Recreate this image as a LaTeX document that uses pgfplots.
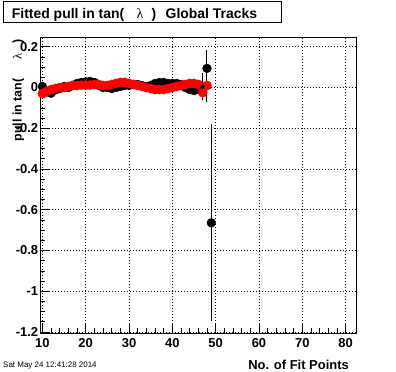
\documentclass[border=0pt]{standalone}
\usepackage{fontspec}
\setmainfont{Liberation Sans}
\newfontfamily\symf{Liberation Serif}
\usepackage{pgfplots}
\pgfplotsset{compat=1.18}
\begin{document}
\begin{tikzpicture}
\useasboundingbox (0,0) rectangle (396bp,372bp);
\fill[white] (0,0) rectangle (396bp,372bp);
\begin{axis}[
  at={(40bp,39bp)}, anchor=south west,
  scale only axis, width=316bp, height=296bp,
  xmin=9.45, xmax=82.4, ymin=-1.205, ymax=0.248,
  xtick={10,20,30,40,50,60,70,80}, minor x tick num=4,
  ytick={-1.2,-1,-0.8,-0.6,-0.4,-0.2,0,0.2},
  yticklabels={-1.2,-1,-0.8,-0.6,-0.4,-0.2,0,0.2},
  minor y tick num=3,
  tick align=inside, tick pos=left,
  major tick length=9bp, minor tick length=4.5bp,
  grid=major, grid style={black, line width=0.6bp, dash pattern=on 1bp off 2bp},
  axis line style={line width=0.8bp},
  every tick/.style={black, line width=0.7bp},
  ticklabel style={font=\fontsize{13}{15}\selectfont\bfseries},
  /pgf/number format/assume math mode=true,
  xticklabel style={yshift=-1.7bp},
  yticklabel style={xshift=1.6bp},
]
\addplot[only marks, mark=*, mark size=4.4bp, mark options={draw=black, fill=black}] coordinates {
(10,0.005) (11,-0.022) (12,-0.028) (13,-0.012) (14,-0.005) (15,0.005) (16,0.0) (17,0.01)
(18,0.02) (19,0.025) (20,0.028) (21,0.03) (22,0.025) (23,0.01) (24,0.0) (25,0.0)
(26,-0.005) (27,0.0) (28,0.005) (29,0.01) (30,0.01) (31,0.015) (32,0.015) (33,0.01)
(34,0.005) (35,0.01) (36,0.02) (37,0.025) (38,0.025) (39,0.02) (40,0.02) (41,0.02)
(42,0.015) (43,0.0) (44,-0.01) (45,-0.015) (46,-0.01)
};
\addplot[only marks, mark=*, mark size=4.6bp, mark options={draw=red, fill=red}] coordinates {
(10,-0.03) (11,-0.02) (12,-0.01) (13,-0.005) (14,0.0) (15,0.0) (16,0.005) (17,0.01)
(18,0.01) (19,0.012) (20,0.012) (21,0.012) (22,0.015) (23,0.015) (24,0.01) (25,0.01)
(26,0.015) (27,0.02) (28,0.025) (29,0.025) (30,0.02) (31,0.015) (32,0.01) (33,0.005)
(34,0.0) (35,-0.005) (36,-0.01) (37,-0.01) (38,-0.01) (39,-0.005) (40,0.0) (41,0.005)
(42,0.01) (43,0.015) (44,0.02) (45,0.02) (46,0.015) (47,-0.025) (48,0.01)
};
\addplot[only marks, mark=*, mark size=4.4bp, mark options={draw=black, fill=black},
  error bars/.cd, y dir=both, y explicit, error mark=none,
  error bar style={black, line width=1bp}] coordinates {
(48,0.094) += (0,0.09) -= (0,0.165)
(49,-0.664) +- (0,0.483)
};
\addplot[only marks, mark=none,
  error bars/.cd, y dir=both, y explicit, error mark=none,
  error bar style={black, line width=1bp}] coordinates {
(46.9,0.004) +- (0,0.066)
};
\end{axis}
\draw[line width=0.9bp] (3.5bp,349.5bp) rectangle (281.5bp,370.3bp);
\node[anchor=base west, inner sep=0, font=\fontsize{14}{16}\selectfont\bfseries] at (11.7bp,353.7bp) {Fitted pull in tan(};
\node[anchor=base west, inner sep=0, font=\fontsize{14}{16}\selectfont\symf] at (136.5bp,353.7bp) {λ};
\node[anchor=base west, inner sep=0, font=\fontsize{14}{16}\selectfont\bfseries] at (151.5bp,353.7bp) {)};
\node[anchor=base west, inner sep=0, font=\fontsize{14}{16}\selectfont\bfseries] at (165.5bp,353.7bp) {Global Tracks};
\node[rotate=90, anchor=base west, inner sep=0, font=\fontsize{12.5}{14}\selectfont\bfseries] at (21.7bp,230.3bp) {pull in tan(};
\node[rotate=90, anchor=base west, inner sep=0, font=\fontsize{12.5}{14}\selectfont\symf] at (21.7bp,312bp) {λ};
\node[rotate=90, anchor=base west, inner sep=0, font=\fontsize{12.5}{14}\selectfont\bfseries] at (21.7bp,328.5bp) {)};
\node[anchor=base east, inner sep=0, font=\fontsize{13}{15}\selectfont\bfseries] at (349bp,2.5bp) {No. of Fit Points};
\node[anchor=base west, inner sep=0, font=\fontsize{8}{9}\selectfont] at (3bp,5bp) {Sat May 24 12:41:28 2014};
\end{tikzpicture}
\end{document}
